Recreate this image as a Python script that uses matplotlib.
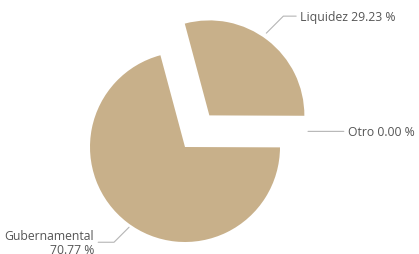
import numpy as np
import matplotlib
matplotlib.use("Agg")
import matplotlib.pyplot as plt

# data
labels = ["Liquidez", "Otro", "Gubernamental"]
values = [29.23, 0.00, 70.77]
explode = [0.42, 0.0, 0.0]

PIE_COLOR = "#c8b08a"
TEXT_COLOR = "#555555"
LINE_COLOR = "#b5b5b5"

W, H = 419, 255
CX, CY, R = 185, 107, 95   # pie centre / radius in pixels (from bottom-left)

plt.rcParams["font.family"] = ["Open Sans", "DejaVu Sans"]

fig = plt.figure(figsize=(W / 100, H / 100), dpi=100)
ax = fig.add_axes([0, 0, 1, 1])

wedges, _ = ax.pie(values, explode=explode, colors=[PIE_COLOR] * 3,
                   startangle=105, counterclock=False, radius=1,
                   wedgeprops=dict(linewidth=0))
ax.set_aspect("auto")
ax.set_xlim(-CX / R, (W - CX) / R)
ax.set_ylim(-CY / R, (H - CY) / R)
ax.axis("off")


def edge_point(w, r=1.0):
    mid = np.deg2rad((w.theta1 + w.theta2) / 2)
    cx, cy = w.center
    return cx + r * np.cos(mid), cy + r * np.sin(mid)


# label settings: offset in pixels, alignment, connector style
opts = {
    "Liquidez": dict(off=(34, 17), ha="left", conn="angle,angleA=0,angleB=45,rad=0", shift=(-1, 7)),
    "Otro": dict(off=(40, 0), ha="left", conn="arc3,rad=0", shift=(28, 16)),
    "Gubernamental": dict(off=(-35, -15), ha="right", conn="angle,angleA=0,angleB=45,rad=0", shift=(2, -5)),
}

for w, lab, val in zip(wedges, labels, values):
    o = opts[lab]
    x, y = edge_point(w)
    x += o["shift"][0] / R
    y += o["shift"][1] / R
    if lab == "Gubernamental":
        txt = f"{lab}\n{val:.2f} %"
    else:
        txt = f"{lab} {val:.2f} %"
    ax.annotate(txt, xy=(x, y), xytext=o["off"], textcoords="offset pixels",
                ha=o["ha"], va="center", multialignment="right",
                fontsize=8.8, color=TEXT_COLOR, linespacing=1.05,
                arrowprops=dict(arrowstyle="-", color=LINE_COLOR, lw=0.8,
                                shrinkA=1, shrinkB=0, connectionstyle=o["conn"]))

fig.savefig("out.png", dpi=100)
